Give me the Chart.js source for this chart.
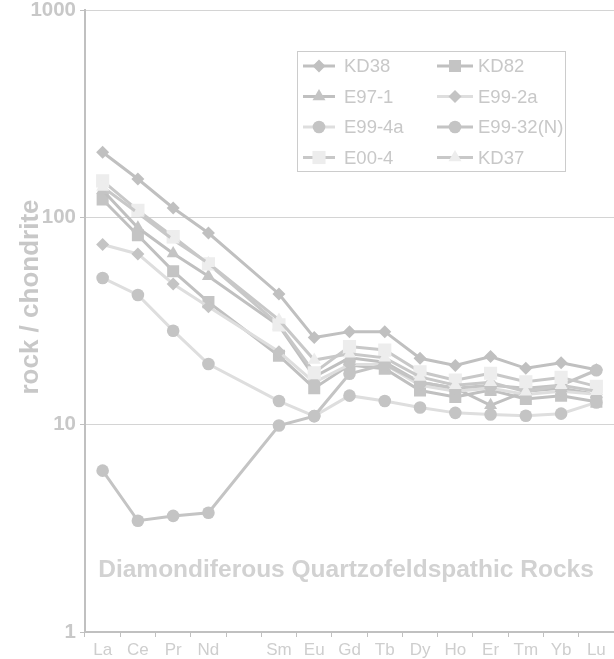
<!DOCTYPE html>
<html><head><meta charset="utf-8">
<script src="https://cdn.jsdelivr.net/npm/chart.js@4/dist/chart.umd.min.js"></script>
<style>html,body{margin:0;padding:0;background:#fff;overflow:hidden}#wrap{width:614px;height:659px;position:relative}</style>
</head><body><div id="wrap"><canvas id="c" width="614" height="659"></canvas></div>
<script>
const categories = ["La","Ce","Pr","Nd","","Sm","Eu","Gd","Tb","Dy","Ho","Er","Tm","Yb","Lu"];
const yTicks = [1, 10, 100, 1000];
const seriesNames = ["KD38","KD82","E97-1","E99-2a","E99-4a","E99-32(N)","E00-4","KD37"];
const KD38   = [206, 153, 111, 84, null, 42.7, 26.3, 28.1, 28.1, 20.9, 19.3, 21.3, 18.7, 19.9, 18.4];
const KD82   = [122, 82, 55, 39, null, 21.5, 15.0, 19.4, 18.6, 14.6, 13.6, 14.7, 13.3, 13.8, 12.9];
const E97_1  = [135, 89, 67, 52, null, 30, 17, 21, 20, 16, 15, 12.4, 14.5, 15, 14];
const E99_2a = [74, 66.6, 47.7, 37, null, 22.5, 16, 19.5, 19.5, 15.5, 14.5, 15, 14, 14.5, 14];
const E99_4a = [51, 42.2, 28.4, 19.6, null, 13.0, 11.0, 13.8, 13.0, 12.1, 11.4, 11.2, 11.05, 11.3, 12.8];
const E99_32 = [6.0, 3.44, 3.63, 3.76, null, 9.9, 11.0, 17.6, 19.5, 16, 15, 15.5, 15, 15.5, 18.3];
const E00_4  = [150, 108, 80.7, 59.6, null, 30.3, 17.8, 23.8, 22.9, 18, 16.4, 17.7, 16.1, 16.9, 15.3];
const KD37   = [140, 105, 78, 60, null, 32, 20.5, 22, 21, 17, 15.5, 16, 14.4, 15.5, 14.5];
const annotation = "Diamondiferous Quartzofeldspathic Rocks";
const yTitle = "rock / chondrite";

const DARK = "#c0c0c0", LIGHT = "#dedede", PALE = "#ededed";
const styles = [
  {line: DARK,  pt: DARK,  ps: "rectRot",  r: 6.5},
  {line: DARK,  pt: "#c4c4c4", ps: "rect", r: 8.5},
  {line: DARK,  pt: "#c4c4c4", ps: "triangle", r: 7.5},
  {line: LIGHT, pt: "#c4c4c4", ps: "rectRot", r: 6.5},
  {line: LIGHT, pt: "#c4c4c4", ps: "circle", r: 6.3},
  {line: "#c4c4c4", pt: "#c4c4c4", ps: "circle", r: 6.3},
  {line: "#c8c8c8", pt: PALE, ps: "rect", r: 9.3},
  {line: "#c8c8c8", pt: PALE, ps: "triangle", r: 7.5}
];
const allData = [KD38, KD82, E97_1, E99_2a, E99_4a, E99_32, E00_4, KD37];

const datasets = allData.map((d, i) => ({
  label: seriesNames[i],
  data: d,
  borderColor: styles[i].line,
  backgroundColor: styles[i].pt,
  pointBackgroundColor: styles[i].pt,
  pointBorderColor: styles[i].pt,
  pointBorderWidth: 0,
  pointStyle: styles[i].ps,
  pointRadius: styles[i].r,
  borderWidth: 3,
  tension: 0,
  spanGaps: true,
  order: 8 - i
}));

const TXT = "#c8c8c8";
const FONT = "Arial, 'Liberation Sans', sans-serif";

const extras = {
  id: "extras",
  afterDraw(chart) {
    const ctx = chart.ctx;
    ctx.save();
    ctx.fillStyle = TXT;
    ctx.font = "bold 26px " + FONT;
    ctx.textAlign = "center";
    ctx.textBaseline = "middle";
    ctx.translate(31, 297);
    ctx.rotate(-Math.PI / 2);
    ctx.fillText(yTitle, 0, 0);
    ctx.restore();

    ctx.save();
    ctx.fillStyle = "#d2d2d2";
    ctx.font = "bold 24.5px " + FONT;
    ctx.textAlign = "center";
    ctx.textBaseline = "middle";
    ctx.fillText(annotation, 346, 570);
    ctx.restore();

    ctx.save();
    ctx.fillStyle = "#fff";
    ctx.fillRect(297, 51, 268, 120);
    ctx.strokeStyle = "#cccccc";
    ctx.lineWidth = 1;
    ctx.strokeRect(297.5, 51.5, 268, 120);
    ctx.font = "18.5px " + FONT;
    ctx.textBaseline = "middle";
    ctx.textAlign = "left";
    for (let i = 0; i < seriesNames.length; i++) {
      const col = i % 2, row = Math.floor(i / 2);
      const y = 66 + row * 30.5;
      const x0 = col === 0 ? 303 : 437;
      const x1 = col === 0 ? 335 : 473;
      const tx = col === 0 ? 344 : 478;
      ctx.strokeStyle = styles[i].line;
      ctx.lineWidth = 3;
      ctx.beginPath(); ctx.moveTo(x0, y); ctx.lineTo(x1, y); ctx.stroke();
      ctx.fillStyle = styles[i].pt;
      Chart.helpers.drawPoint(ctx, {pointStyle: styles[i].ps, radius: styles[i].r, borderWidth: 0}, (x0 + x1) / 2, y);
      ctx.fillStyle = TXT;
      ctx.fillText(seriesNames[i], tx, y + 1);
    }
    ctx.restore();
  }
};

new Chart(document.getElementById("c"), {
  type: "line",
  data: { labels: categories, datasets },
  options: {
    responsive: false,
    animation: false,
    devicePixelRatio: 1,
    layout: { autoPadding: false, padding: { top: 10, right: 0, left: 0, bottom: 0 } },
    plugins: { legend: { display: false }, tooltip: { enabled: false } },
    scales: {
      x: {
        type: "category",
        offset: true,
        grid: { display: true, drawOnChartArea: false, drawTicks: true, tickLength: 5, offset: true, color: "#c0c0c0", lineWidth: 1 },
        border: { display: true, color: "#c0c0c0", width: 2 },
        ticks: { color: "#cecece", font: { size: 17, family: FONT }, padding: 3, maxRotation: 0, autoSkip: false },
        afterFit(s) { s.height = 27; s.paddingLeft = 0; s.paddingRight = 0; }
      },
      y: {
        type: "logarithmic",
        min: 1, max: 1000,
        afterBuildTicks(s) { s.ticks = yTicks.map(v => ({ value: v })); },
        grid: { color: "#d4d4d4", lineWidth: 1, drawTicks: true, tickLength: 5, tickColor: "#c0c0c0" },
        border: { display: true, color: "#c0c0c0", width: 2 },
        ticks: { color: TXT, font: { size: 20.5, weight: "bold", family: FONT }, padding: 4, callback: v => String(v) },
        afterFit(s) { s.width = 85; s.paddingTop = 0; s.paddingBottom = 0; }
      }
    }
  },
  plugins: [extras]
});
</script></body></html>
